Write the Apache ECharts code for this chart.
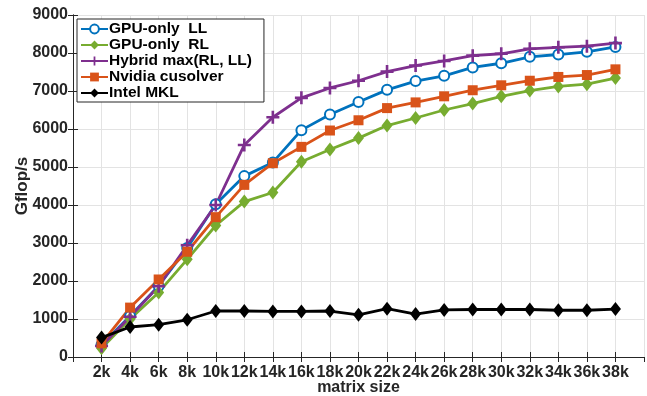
<!DOCTYPE html>
<html>
<head>
<meta charset="utf-8">
<script src="https://cdn.jsdelivr.net/npm/echarts@6/dist/echarts.min.js"></script>
<style>
  html, body { margin: 0; padding: 0; background: #fff; }
  #chart { width: 647px; height: 396px; }
</style>
</head>
<body>
<div id="chart"></div>
<script>
// matrix sizes (in k)
const sizes = [2, 4, 6, 8, 10, 12, 14, 16, 18, 20, 22, 24, 26, 28, 30, 32, 34, 36, 38]
const seriesNames = ['GPU-only  LL', 'GPU-only  RL', 'Hybrid max(RL, LL)', 'Nvidia cusolver', 'Intel MKL']

const llData = [320, 1080, 1870, 2870, 4020, 4760, 5120, 5970, 6380, 6710, 7030, 7260, 7400, 7620, 7730, 7900, 7960, 8030, 8160]
const rlData = [230, 1000, 1700, 2570, 3460, 4090, 4330, 5140, 5460, 5760, 6090, 6290, 6500, 6670, 6860, 7010, 7120, 7180, 7340]
const hybridData = [290, 1060, 1860, 2940, 4000, 5580, 6310, 6820, 7080, 7270, 7510, 7670, 7790, 7930, 7980, 8110, 8150, 8180, 8260]
const cusolverData = [360, 1300, 2040, 2770, 3680, 4530, 5100, 5530, 5960, 6230, 6550, 6700, 6860, 7020, 7150, 7270, 7370, 7420, 7570]
const mklData = [510, 790, 850, 980, 1210, 1210, 1200, 1200, 1210, 1110, 1270, 1130, 1240, 1250, 1250, 1250, 1230, 1230, 1260]

const font = 'Liberation Sans, Arial, Helvetica, sans-serif'
const axisColor = '#262626'
const plusPath = 'path://M4,0 H6 V4 H10 V6 H6 V10 H4 V6 H0 V4 H4 Z'

const pairs = (arr) => sizes.map((s, i) => [s, arr[i]])

const chart = echarts.init(document.getElementById('chart'), null, { renderer: 'canvas' })

const mkSeries = (name, data, color, symbol, symbolSize, extra) => Object.assign({
  name: name,
  type: 'line',
  data: pairs(data),
  symbol: symbol,
  symbolSize: symbolSize,
  showAllSymbol: true,
  lineStyle: { color: color, width: 2.8 },
  itemStyle: { color: color, borderColor: color, borderWidth: 0 },
  emphasis: { disabled: true },
  animation: false
}, extra || {})

const option = {
  animation: false,
  grid: { left: 73, right: 3, top: 15, bottom: 39, containLabel: false, outerBoundsMode: 'none' },
  legend: {
    show: true,
    orient: 'vertical',
    left: 77,
    top: 19,
    padding: [2, 12, 1, 3],
    itemGap: 0,
    itemWidth: 27,
    itemHeight: 11,
    backgroundColor: '#fff',
    borderColor: axisColor,
    borderWidth: 1,
    borderRadius: 0,
    textStyle: { fontFamily: font, fontSize: 15.5, lineHeight: 15, fontWeight: 'bold', color: '#000', padding: [0, 0, 0, -4] },
    data: seriesNames
  },
  xAxis: [{
    type: 'value',
    min: 0,
    max: 40,
    interval: 2,
    name: 'matrix size',
    nameLocation: 'middle',
    nameGap: 23,
    nameMoveOverlap: false,
    nameTextStyle: { fontFamily: font, fontSize: 16, fontWeight: 'bold', color: axisColor },
    axisLine: { show: true, lineStyle: { color: axisColor, width: 1 } },
    axisTick: { show: true, inside: true, length: 5, lineStyle: { color: axisColor } },
    axisLabel: {
      fontFamily: font, fontSize: 16, fontWeight: 'bold', color: axisColor, margin: 8,
      showMinLabel: false, showMaxLabel: false,
      formatter: (v) => (v === 0 || v === 40) ? '' : v + 'k'
    },
    splitLine: { show: true, lineStyle: { color: '#e3e3e3', width: 1 } }
  }, {
    type: 'value',
    position: 'top',
    min: 0,
    max: 40,
    interval: 2,
    axisLine: { show: true, lineStyle: { color: axisColor, width: 1 } },
    axisTick: { show: true, inside: true, length: 5, lineStyle: { color: axisColor } },
    axisLabel: { show: false },
    splitLine: { show: false }
  }],
  yAxis: [{
    type: 'value',
    min: 0,
    max: 9000,
    interval: 1000,
    name: 'Gflop/s',
    nameLocation: 'middle',
    nameGap: 42,
    nameMoveOverlap: false,
    nameTextStyle: { fontFamily: font, fontSize: 17, fontWeight: 'bold', color: axisColor },
    axisLine: { show: true, lineStyle: { color: axisColor, width: 1 } },
    axisTick: { show: true, inside: true, length: 5, lineStyle: { color: axisColor } },
    axisLabel: { fontFamily: font, fontSize: 16, fontWeight: 'bold', color: axisColor, margin: 5, formatter: (v) => String(v) },
    splitLine: { show: true, lineStyle: { color: '#e3e3e3', width: 1 } }
  }, {
    type: 'value',
    position: 'right',
    min: 0,
    max: 9000,
    interval: 1000,
    axisLine: { show: true, lineStyle: { color: axisColor, width: 1 } },
    axisTick: { show: true, inside: true, length: 5, lineStyle: { color: axisColor } },
    axisLabel: { show: false },
    splitLine: { show: false }
  }],
  series: [
    mkSeries(seriesNames[0], llData, '#0072BD', 'emptyCircle', 10, {
      itemStyle: { color: '#0072BD', borderColor: '#0072BD', borderWidth: 2.4 }
    }),
    mkSeries(seriesNames[1], rlData, '#77AC30', 'diamond', [11, 14]),
    mkSeries(seriesNames[2], hybridData, '#7E2F8E', plusPath, 13),
    mkSeries(seriesNames[3], cusolverData, '#D95319', 'rect', 10),
    mkSeries(seriesNames[4], mklData, '#000000', 'diamond', [11, 14])
  ]
}

if (option && typeof option === 'object') {
  chart.setOption(option, true)
}
</script>
</body>
</html>
